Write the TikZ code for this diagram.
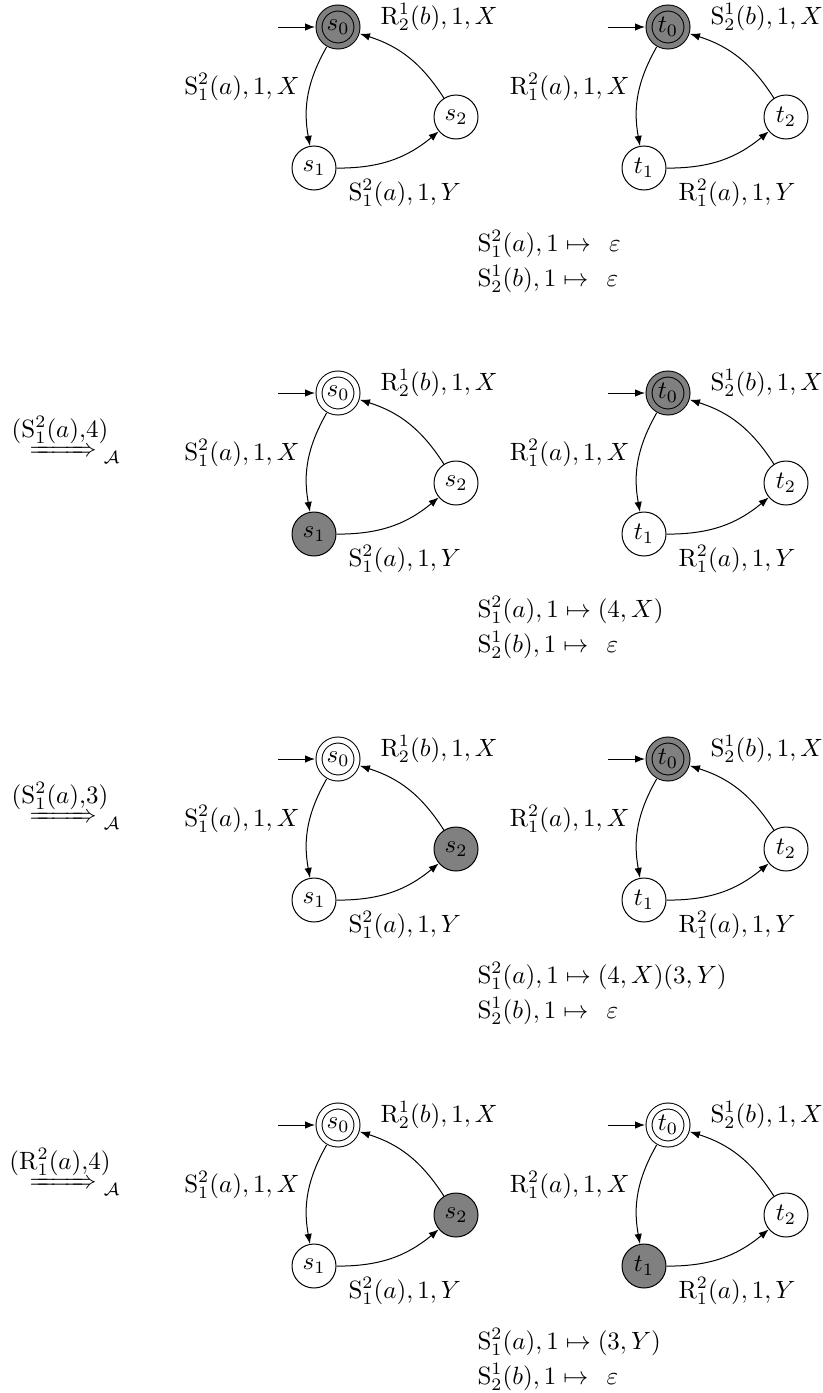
\documentclass[tikz,border=0pt]{standalone}
\usepackage{amsmath,mathtools}
\usetikzlibrary{arrows.meta}
\tikzset{
  stt/.style={circle,draw,minimum size=17.6pt,inner sep=0pt},
  acc/.style={circle,draw,double=#1,fill=#1,double distance=2pt,minimum size=15.2pt,inner sep=0pt,outer sep=1.6pt},
  tr/.style={-{Latex[length=4pt,width=3pt]},bend right=20},
  ini/.style={-{Latex[length=4pt,width=3pt]}},
  lbl/.style={inner sep=0pt},
}
\newcommand{\drawpanel}[9]{%
  \begin{scope}[shift={(0,#2)}]
    % left automaton
    \node[acc=#3] (s0#1) at (338,27) {$s_0$};
    \node[stt,fill=#4] (s1#1) at (314,168) {$s_1$};
    \node[stt,fill=#5] (s2#1) at (456,117) {$s_2$};
    \coordinate (is#1) at (278,27);
    \draw[ini] (is#1) -- (s0#1);
    \draw[tr] (s0#1) to (s1#1);
    \draw[tr] (s1#1) to (s2#1);
    \draw[tr] (s2#1) to (s0#1);
    \node[lbl,anchor=east] (la#1) at (300,87) {$\mathrm{S}^2_1(a),1,X$};
    \node[lbl,anchor=west] (lb#1) at (348,193) {$\mathrm{S}^2_1(a),1,Y$};
    \node[lbl,anchor=west] (lc#1) at (380,17) {$\mathrm{R}^1_2(b),1,X$};
    % right automaton
    \begin{scope}[shift={(330,0)}]
      \node[acc=#6] (t0#1) at (338,27) {$t_0$};
      \node[stt,fill=#7] (t1#1) at (314,168) {$t_1$};
      \node[stt,fill=#8] (t2#1) at (456,117) {$t_2$};
      \coordinate (it#1) at (278,27);
      \draw[ini] (it#1) -- (t0#1);
      \draw[tr] (t0#1) to (t1#1);
      \draw[tr] (t1#1) to (t2#1);
      \draw[tr] (t2#1) to (t0#1);
      \node[lbl,anchor=east] (ma#1) at (300,87) {$\mathrm{R}^2_1(a),1,X$};
      \node[lbl,anchor=west] (mb#1) at (348,193) {$\mathrm{R}^2_1(a),1,Y$};
      \node[lbl,anchor=west] (mc#1) at (380,17) {$\mathrm{S}^1_2(b),1,X$};
    \end{scope}
    % buffer contents
    \node[lbl,anchor=west] (ba#1) at (477,244) {$\mathrm{S}^2_1(a),1\mapsto #9$};
    \node[lbl,anchor=west] (bb#1) at (477,279) {$\mathrm{S}^1_2(b),1\mapsto\hspace{4.5pt}\varepsilon$};
  \end{scope}}
\newcommand{\stepto}{$\xRightarrow{\hspace{19pt}}\raisebox{-3pt}{$\scriptstyle\mathcal{A}$}$}
\begin{document}
\begin{tikzpicture}[x=0.4pt,y=-0.4pt]
  \useasboundingbox (0,0) rectangle (822,1393);
  \drawpanel{a}{0}{gray}{white}{white}{gray}{white}{white}{\hspace{4.5pt}\varepsilon}
  \drawpanel{b}{366}{white}{gray}{white}{gray}{white}{white}{(4,X)}
  \drawpanel{c}{732}{white}{white}{gray}{gray}{white}{white}{(4,X)(3,Y)}
  \drawpanel{d}{1098}{white}{white}{gray}{white}{gray}{white}{(3,Y)}
  \node[lbl] (stb) at (60,430) {$(\mathrm{S}^2_1(a){,}4)$};
  \node[lbl,anchor=base west] (sab) at (29,456) {\stepto};
  \node[lbl] (stc) at (60,796) {$(\mathrm{S}^2_1(a){,}3)$};
  \node[lbl,anchor=base west] (sac) at (29,822) {\stepto};
  \node[lbl] (std) at (60,1162) {$(\mathrm{R}^2_1(a){,}4)$};
  \node[lbl,anchor=base west] (sad) at (29,1188) {\stepto};
\end{tikzpicture}
\end{document}
